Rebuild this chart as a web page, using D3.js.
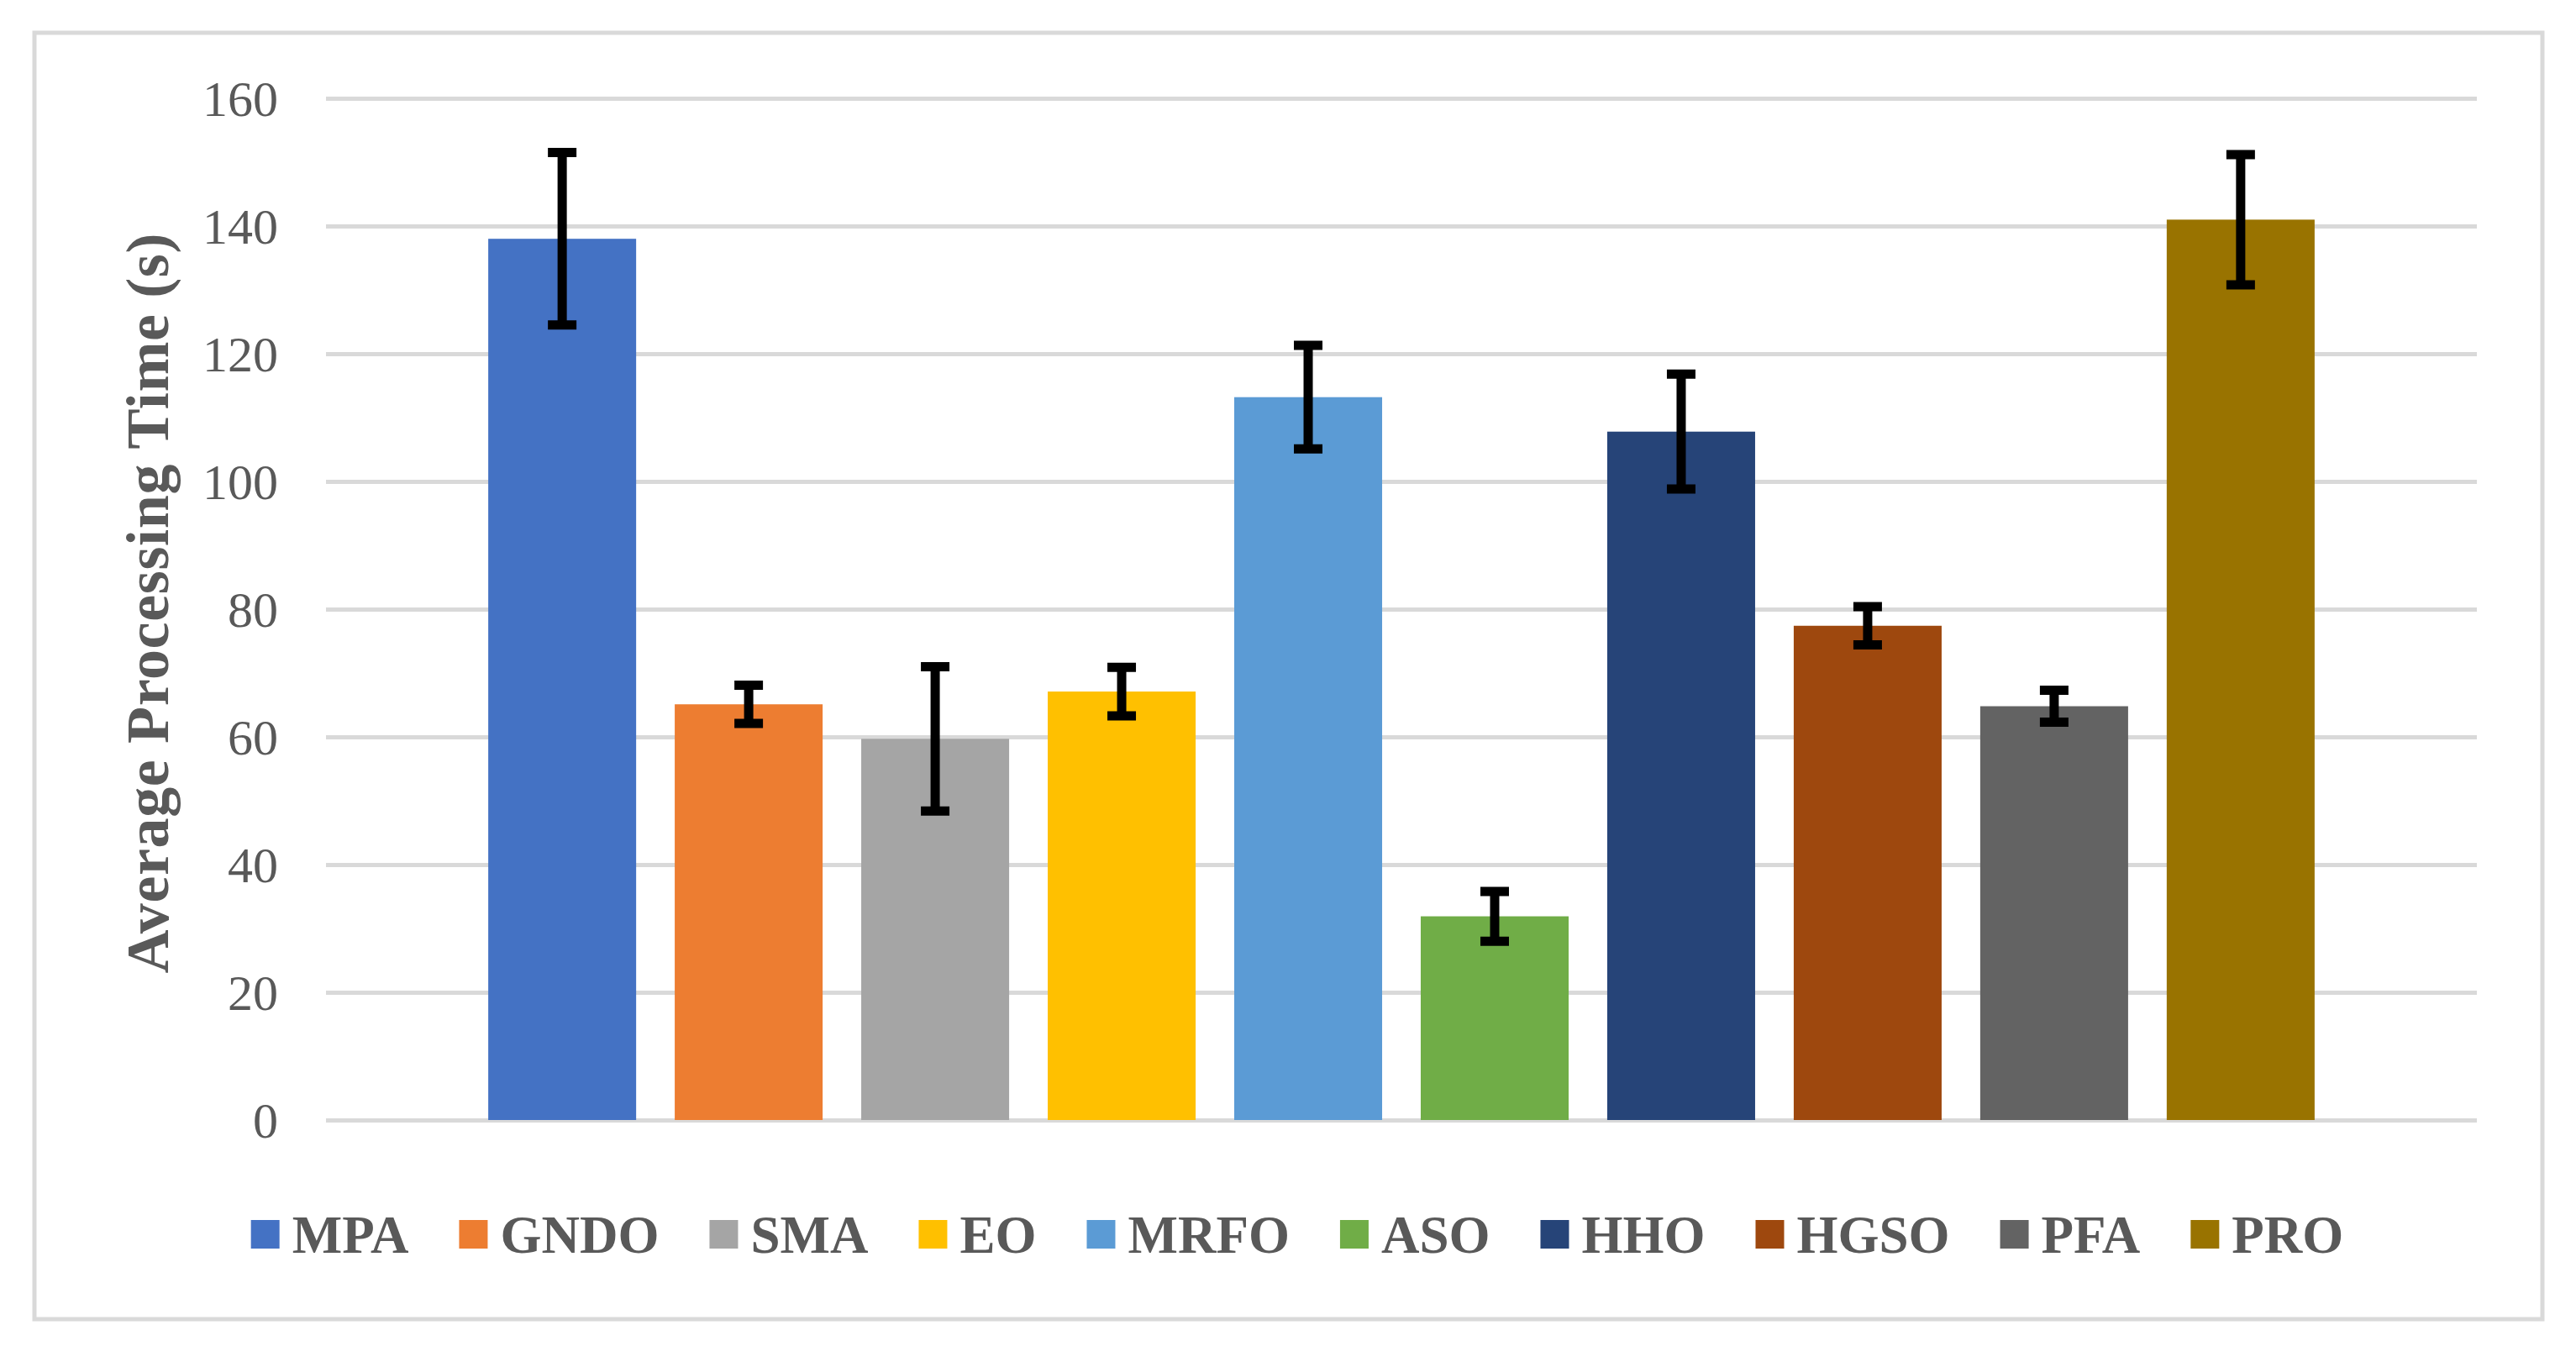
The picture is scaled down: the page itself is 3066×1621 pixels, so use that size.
<!DOCTYPE html>
<html>
<head>
<meta charset="utf-8">
<script src="https://cdn.jsdelivr.net/npm/d3@7"></script>
<style>
  html, body { margin: 0; padding: 0; background: #fff; }
  svg { display: block; }
</style>
</head>
<body>
<svg id="chart" width="3066" height="1621"></svg>
<script>
// ---- data ----
const categories = ["MPA", "GNDO", "SMA", "EO", "MRFO", "ASO", "HHO", "HGSO", "PFA", "PRO"];
const meanValues = [138, 65.1, 59.7, 67.1, 113.2, 31.9, 107.8, 77.4, 64.8, 141];
const errorValues = [13.5, 3.0, 11.3, 3.8, 8.1, 3.9, 9.0, 3.0, 2.5, 10.2];
const barColors = ["#4472C4", "#ED7D31", "#A5A5A5", "#FFC000", "#5B9BD5", "#70AD47", "#264478", "#9E480E", "#636363", "#997300"];
const yTicks = [0, 20, 40, 60, 80, 100, 120, 140, 160];
const yTitle = "Average Processing Time (s)";

// ---- layout ----
const W = 3066, H = 1621;
const plot = { left: 388, right: 2948, top: 117, bottom: 1333 };
const textColor = "#595959";
const fontFamily = "'Liberation Serif', 'Times New Roman', serif";

const svg = d3.select("#chart");
svg.append("rect").attr("x", 0).attr("y", 0).attr("width", W).attr("height", H).attr("fill", "#fff");

// chart frame
svg.append("rect")
  .attr("x", 41).attr("y", 39).attr("width", 2985).attr("height", 1531)
  .attr("fill", "#fff").attr("stroke", "#d9d9d9").attr("stroke-width", 5);

const x = d3.scaleBand()
  .domain(categories)
  .range([plot.left, plot.right])
  .paddingInner(0.207)
  .paddingOuter(0.87);

const y = d3.scaleLinear().domain([0, 160]).range([plot.bottom, plot.top]);

// gridlines
const yAxis = d3.axisLeft(y).tickValues(yTicks).tickSize(-(plot.right - plot.left)).tickPadding(57).tickFormat(d3.format("d"));
const gAxis = svg.append("g").attr("transform", `translate(${plot.left},0)`).call(yAxis);
gAxis.select(".domain").remove();
gAxis.selectAll(".tick line").attr("stroke", "#d9d9d9").attr("stroke-width", 5);
gAxis.selectAll(".tick text")
  .attr("fill", textColor)
  .style("font-family", fontFamily)
  .style("font-size", "60px")
  .attr("dy", "0.34em");

// bars
const data = categories.map((c, i) => ({ c, v: meanValues[i], e: errorValues[i], color: barColors[i] }));
svg.append("g").selectAll("rect").data(data).join("rect")
  .attr("x", d => x(d.c))
  .attr("y", d => y(d.v))
  .attr("width", x.bandwidth())
  .attr("height", d => y(0) - y(d.v))
  .attr("fill", d => d.color);

// error bars
const gErr = svg.append("g").attr("stroke", "#000").attr("stroke-width", 11);
data.forEach(d => {
  const cx = x(d.c) + x.bandwidth() / 2;
  const yt = y(d.v + d.e), yb = y(d.v - d.e);
  gErr.append("line").attr("x1", cx).attr("x2", cx).attr("y1", yt).attr("y2", yb);
  gErr.append("line").attr("x1", cx - 17).attr("x2", cx + 17).attr("y1", yt).attr("y2", yt);
  gErr.append("line").attr("x1", cx - 17).attr("x2", cx + 17).attr("y1", yb).attr("y2", yb);
});

// y title
svg.append("text")
  .attr("transform", `translate(200,718) rotate(-90)`)
  .attr("text-anchor", "middle")
  .attr("fill", textColor)
  .style("font-family", fontFamily)
  .style("font-size", "72px")
  .style("font-weight", "bold")
  .attr("textLength", 881)
  .attr("lengthAdjust", "spacing")
  .text(yTitle);

// legend
const gLeg = svg.append("g");
const markerSize = 34, markerGap = 15, itemGap = 60;
let cursor = 0;
data.forEach(d => {
  const g = gLeg.append("g");
  g.append("rect").attr("x", 0).attr("y", -markerSize / 2).attr("width", markerSize).attr("height", markerSize).attr("fill", d.color);
  const t = g.append("text")
    .attr("x", markerSize + markerGap).attr("y", 22)
    .attr("fill", textColor)
    .style("font-family", fontFamily)
    .style("font-size", "63px")
    .style("font-weight", "bold")
    .text(d.c);
  const w = t.node().getComputedTextLength();
  g.attr("transform", `translate(${cursor},0)`);
  cursor += markerSize + markerGap + w + itemGap;
});
const totalW = cursor - itemGap;
gLeg.attr("transform", `translate(${1544 - totalW / 2},1469)`);
</script>
</body>
</html>
